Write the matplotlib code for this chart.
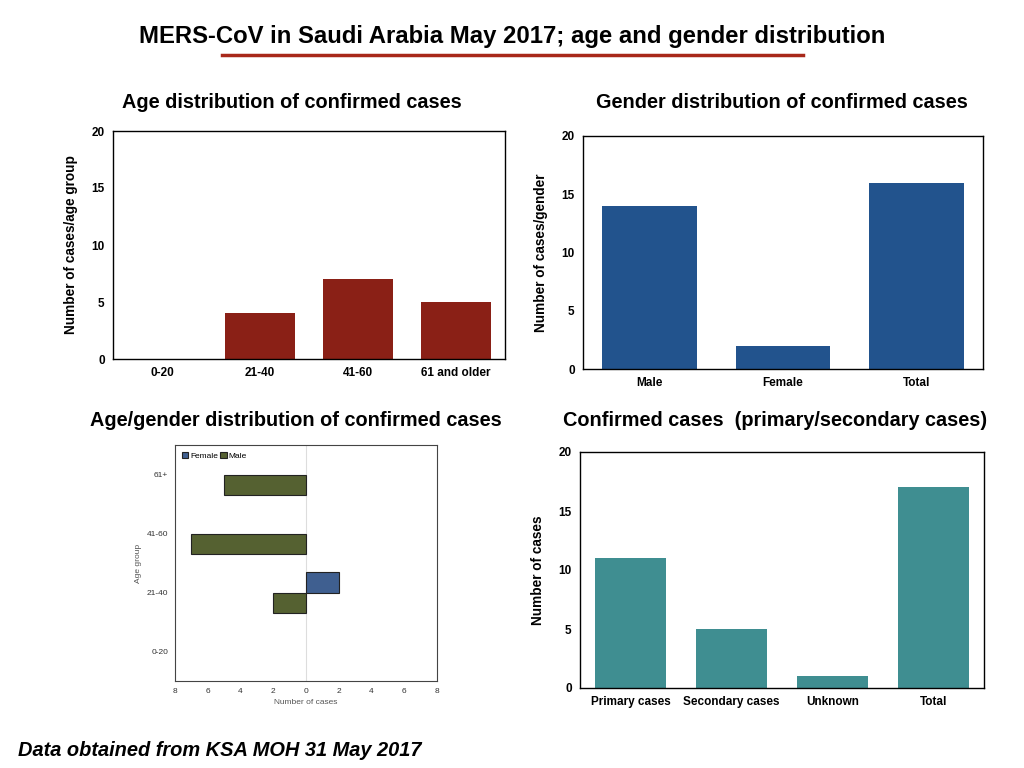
import matplotlib
matplotlib.use("Agg")
import matplotlib.pyplot as plt
import numpy as np

plt.rcParams['font.family'] = ['Liberation Sans', 'DejaVu Sans']

# data
age_groups = ['0-20', '21-40', '41-60', '61 and older']
age_counts = [0, 4, 7, 5]

genders = ['Male', 'Female', 'Total']
gender_counts = [14, 2, 16]

case_types = ['Primary cases', 'Secondary cases', 'Unknown', 'Total']
case_counts = [11, 5, 1, 17]

ag_groups = ['0-20', '21-40', '41-60', '61+']
ag_male = [0, 2, 7, 5]
ag_female = [0, 2, 0, 0]

W, H = 1024, 768


def px_axes(fig, x0, y0, x1, y1):
    return fig.add_axes([x0 / W, 1 - y1 / H, (x1 - x0) / W, (y1 - y0) / H])


def simple_bar(ax, cats, vals, color, ylabel):
    x = np.arange(len(cats))
    ax.bar(x, vals, width=0.71, color=color)
    ax.set_xlim(-0.5, len(cats) - 0.5)
    ax.set_ylim(0, 20)
    ax.set_yticks([0, 5, 10, 15, 20])
    ax.set_xticks(x)
    ax.set_xticklabels(cats, fontsize=8.5, fontweight='bold')
    for lab in ax.get_yticklabels():
        lab.set_fontsize(8.5)
        lab.set_fontweight('bold')
    ax.tick_params(length=0, pad=6)
    ax.set_ylabel(ylabel, fontsize=9.8, fontweight='bold', labelpad=10)
    for s in ax.spines.values():
        s.set_linewidth(1.0)


fig = plt.figure(figsize=(10.24, 7.68), dpi=100)

fig.text(512 / W, 1 - 37 / H, 'MERS-CoV in Saudi Arabia May 2017; age and gender distribution',
         ha='center', va='center', fontsize=17.2, fontweight='bold')
fig.add_artist(plt.Line2D([222 / W, 803 / W], [1 - 55 / H, 1 - 55 / H], color='#A8281A', linewidth=2.5))

fig.text(292 / W, 1 - 103 / H, 'Age distribution of confirmed cases', ha='center', va='center',
         fontsize=14.3, fontweight='bold')
fig.text(782 / W, 1 - 103 / H, 'Gender distribution of confirmed cases', ha='center', va='center',
         fontsize=14.3, fontweight='bold')
fig.text(296 / W, 1 - 421 / H, 'Age/gender distribution of confirmed cases', ha='center', va='center',
         fontsize=14.3, fontweight='bold')
fig.text(775 / W, 1 - 421 / H, 'Confirmed cases  (primary/secondary cases)', ha='center', va='center',
         fontsize=14.3, fontweight='bold')
fig.text(18 / W, 1 - 751 / H, 'Data obtained from KSA MOH 31 May 2017', ha='left', va='center',
         fontsize=14.4, fontweight='bold', fontstyle='italic')

ax1 = px_axes(fig, 113, 131, 505, 359)
simple_bar(ax1, age_groups, age_counts, '#8A2016', 'Number of cases/age group')

ax2 = px_axes(fig, 583, 136, 983, 369)
simple_bar(ax2, genders, gender_counts, '#22538D', 'Number of cases/gender')

ax4 = px_axes(fig, 580, 452, 984, 688)
simple_bar(ax4, case_types, case_counts, '#3F8E91', 'Number of cases')

# age/gender butterfly chart
ax3 = px_axes(fig, 175, 445, 437, 681)
y = np.arange(len(ag_groups))
h = 0.34
fy = [yy for yy, v in zip(y, ag_female) if v]
fv = [v for v in ag_female if v]
my = [yy for yy, v in zip(y, ag_male) if v]
mv = [-v for v in ag_male if v]
ax3.barh(np.array(fy) + h / 2, fv, height=h, color='#3F5F90', edgecolor='#222222', linewidth=0.8, label='Female')
ax3.barh(np.array(my) - h / 2, mv, height=h, color='#556131', edgecolor='#222222', linewidth=0.8, label='Male')
ax3.axvline(0, color='#dddddd', linewidth=0.8, zorder=0)
ax3.set_xlim(-8, 8)
ax3.set_ylim(-0.5, 3.5)
ax3.set_xticks(np.arange(-8, 9, 2))
ax3.set_xticklabels([str(abs(v)) for v in range(-8, 9, 2)])
ax3.set_yticks(y)
ax3.set_yticklabels(ag_groups)
ax3.tick_params(length=0, labelsize=6, labelcolor='#333333', pad=5)
ax3.set_xlabel('Number of cases', fontsize=6, color='#555555', labelpad=3)
ax3.set_ylabel('Age group', fontsize=6, color='#555555', labelpad=3)
for s in ax3.spines.values():
    s.set_color('#444444')
    s.set_linewidth(0.8)
ax3.legend(loc='upper left', fontsize=6, frameon=False, ncol=2, handlelength=0.8, handleheight=0.8,
           handletextpad=0.2, columnspacing=0.3, borderaxespad=0.4)

fig.savefig('out.png', dpi=100)
